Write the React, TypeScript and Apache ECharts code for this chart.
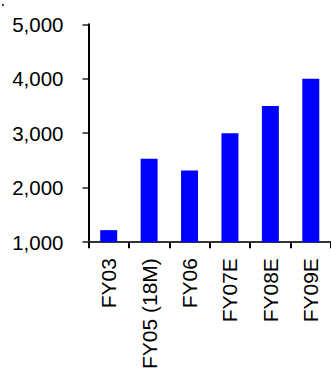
import React, { useEffect, useRef } from "react";
import * as echarts from "echarts";

// Fiscal-year categories and values (in thousands)
const categories = ["FY03", "FY05 (18M)", "FY06", "FY07E", "FY08E", "FY09E"];
const values = [1220, 2530, 2315, 3000, 3500, 4000];
const yMin = 1000;
const yMax = 5000;
const yStep = 1000;

const FONT = "'Liberation Sans', Arial, sans-serif";

export default function App() {
  const ref = useRef<HTMLDivElement>(null);

  useEffect(() => {
    if (!ref.current) return;
    const chart = echarts.init(ref.current, undefined, { renderer: "svg" });
    chart.setOption({
      animation: false,
      backgroundColor: "#fff",
      grid: { left: 88.5, right: 0, top: 24.3, bottom: 127.7, containLabel: false },
      graphic: [
        { type: "rect", left: 2, top: 4, shape: { width: 2, height: 2 }, style: { fill: "#444" } },
      ],
      xAxis: {
        type: "category",
        data: categories,
        axisLine: { show: true, lineStyle: { color: "#333", width: 2 } },
        axisTick: { show: true, length: 6, lineStyle: { color: "#000", width: 2 } },
        axisLabel: {
          rotate: 90,
          margin: 16,
          fontFamily: FONT,
          fontSize: 21,
          color: "#000",
          interval: 0,
        },
      },
      yAxis: [
        {
          type: "value",
          position: "left",
          min: yMin,
          max: yMax,
          interval: yStep,
          axisLine: { show: true, lineStyle: { color: "#000", width: 2 } },
          axisTick: { show: true, length: 6, lineStyle: { color: "#222", width: 1.5 } },
          splitLine: { show: false },
          axisLabel: {
            margin: 25,
            fontFamily: FONT,
            fontSize: 20.5,
            color: "#000",
            formatter: (v: number) => v.toLocaleString("en-US"),
          },
        },
      ],
      series: [
        {
          type: "bar",
          data: values,
          barWidth: "42%",
          itemStyle: { color: "#0000ff" },
        },
      ],
    });
    return () => chart.dispose();
  }, []);

  return (
    <div
      ref={ref}
      style={{ position: "fixed", left: 0, top: 0, width: 331, height: 372, background: "#fff" }}
    />
  );
}
